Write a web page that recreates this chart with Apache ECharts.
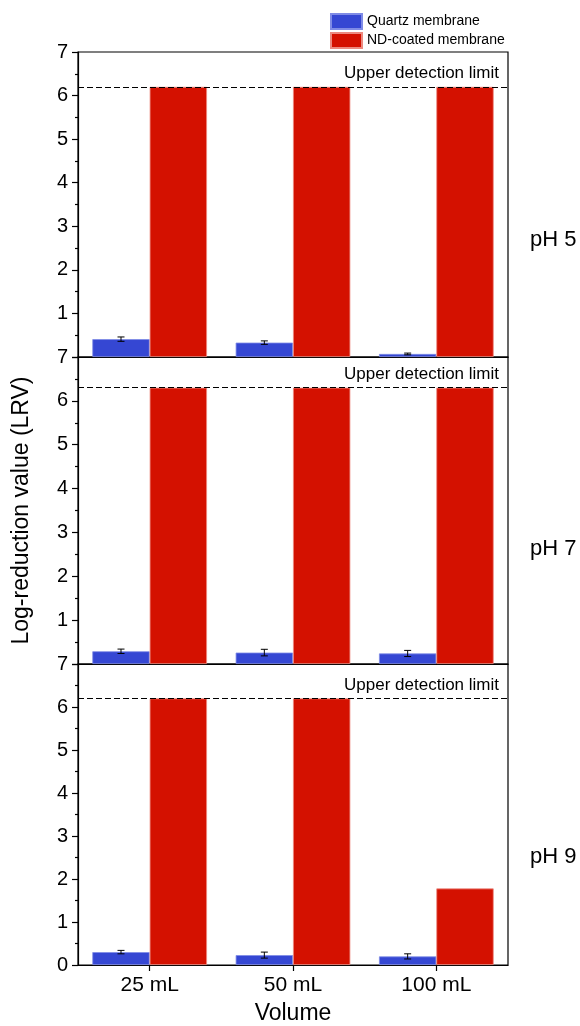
<!DOCTYPE html>
<html>
<head>
<meta charset="utf-8">
<script src="https://cdn.jsdelivr.net/npm/echarts@6/dist/echarts.min.js"></script>
<style>
html,body{margin:0;padding:0;background:#fff;}
#chart{width:580px;height:1026px;}
</style>
</head>
<body>
<div id="chart"></div>
<script>
// ---- data ----
var categories = ['25 mL', '50 mL', '100 mL'];
var panelLabels = ['pH 5', 'pH 7', 'pH 9'];
var quartzPH5 = [0.41, 0.33, 0.07];
var quartzErrPH5 = [0.05, 0.04, 0.02];
var ndPH5 = [6.2, 6.2, 6.2];
var quartzPH7 = [0.29, 0.26, 0.24];
var quartzErrPH7 = [0.05, 0.075, 0.07];
var ndPH7 = [6.3, 6.3, 6.3];
var quartzPH9 = [0.30, 0.23, 0.20];
var quartzErrPH9 = [0.04, 0.07, 0.06];
var ndPH9 = [6.2, 6.2, 1.78];
var detectionLimits = [6.2, 6.3, 6.2];
var yTicks = [0, 1, 2, 3, 4, 5, 6, 7];

var quartzAll = [quartzPH5, quartzPH7, quartzPH9];
var errAll = [quartzErrPH5, quartzErrPH7, quartzErrPH9];
var ndAll = [ndPH5, ndPH7, ndPH9];

var FONT = '"Liberation Sans", Arial, sans-serif';
var BLUE = '#3547d3';
var RED = '#d41100';

var grids = [
  {left: 78, right: 72, top: 52, height: 305},
  {left: 78, right: 72, top: 357, height: 307},
  {left: 78, right: 72, top: 664, height: 301}
];
var panelLabelY = [240, 549, 857];

var xAxes = [], yAxes = [], series = [], graphics = [];
grids.forEach(function (g, i) {
  g.show = true;
  g.borderColor = '#000';
  g.borderWidth = 1.2;
  g.backgroundColor = 'transparent';
  var last = i === grids.length - 1;
  xAxes.push({
    type: 'category',
    gridIndex: i,
    data: categories,
    axisLine: {show: true, lineStyle: {color: '#000', width: 1.2}},
    axisTick: {show: last, alignWithLabel: true, length: 6, lineStyle: {color: '#000', width: 1.2}},
    axisLabel: {show: last, color: '#000', fontSize: 21, fontFamily: FONT, margin: 10},
    splitLine: {show: false},
    name: last ? 'Volume' : '',
    nameLocation: 'middle',
    nameGap: 37,
    nameTextStyle: {color: '#000', fontSize: 23, fontFamily: FONT}
  });
  yAxes.push({
    type: 'value',
    gridIndex: i,
    min: yTicks[0],
    max: yTicks[yTicks.length - 1],
    interval: 1,
    axisLine: {show: true, lineStyle: {color: '#000', width: 1.2}},
    axisTick: {show: true, length: 6, lineStyle: {color: '#000', width: 1.2}},
    minorTick: {show: true, splitNumber: 2, length: 3, lineStyle: {color: '#000', width: 1.2}},
    splitLine: {show: false},
    axisLabel: {
      color: '#000', fontSize: 20, fontFamily: FONT, margin: 10,
      formatter: (function (hideZero) {
        return function (v) { return (hideZero && v === 0) ? '' : String(v); };
      })(!last)
    },
    name: i === 1 ? 'Log-reduction value (LRV)' : '',
    nameLocation: 'middle',
    nameGap: 45,
    nameRotate: 90,
    nameTextStyle: {color: '#000', fontSize: 23, fontFamily: FONT}
  });
  series.push({
    name: 'Quartz membrane',
    type: 'bar',
    xAxisIndex: i, yAxisIndex: i,
    data: quartzAll[i],
    barGap: '0%',
    barCategoryGap: '20%',
    itemStyle: {color: BLUE, borderColor: '#7f8be6', borderWidth: 0.8},
    z: 2
  });
  series.push({
    name: 'ND-coated membrane',
    type: 'bar',
    xAxisIndex: i, yAxisIndex: i,
    data: ndAll[i],
    barGap: '0%',
    barCategoryGap: '20%',
    itemStyle: {color: RED, borderColor: '#ec8a80', borderWidth: 0.8},
    z: 2,
    markLine: {
      silent: true,
      symbol: 'none',
      animation: false,
      lineStyle: {color: '#000', type: [6, 3], width: 1.2},
      label: {
        show: true,
        position: 'insideEndTop',
        formatter: 'Upper detection limit',
        color: '#000',
        fontSize: 17,
        fontFamily: FONT,
        distance: [9, 5]
      },
      data: [{yAxis: detectionLimits[i]}]
    }
  });
  var errData = quartzAll[i].map(function (v, k) { return [k, v, errAll[i][k]]; });
  series.push({
    type: 'custom',
    xAxisIndex: i, yAxisIndex: i,
    data: errData,
    z: 5,
    silent: true,
    renderItem: function (params, api) {
      var x = api.value(0), y = api.value(1), e = api.value(2);
      var band = api.size([1, 0])[0];
      var top = api.coord([x, y + e]);
      var bot = api.coord([x, y - e]);
      var cx = top[0] - band * 0.2;
      var cap = 3.5;
      var st = {stroke: '#000', lineWidth: 1};
      return {
        type: 'group',
        children: [
          {type: 'line', shape: {x1: cx, y1: top[1], x2: cx, y2: bot[1]}, style: st},
          {type: 'line', shape: {x1: cx - cap, y1: top[1], x2: cx + cap, y2: top[1]}, style: st},
          {type: 'line', shape: {x1: cx - cap, y1: bot[1], x2: cx + cap, y2: bot[1]}, style: st}
        ]
      };
    }
  });
  graphics.push({
    type: 'text',
    x: 530,
    y: panelLabelY[i],
    style: {text: panelLabels[i], fill: '#000', font: '22px ' + FONT, verticalAlign: 'middle', align: 'left'}
  });
});

var chart = echarts.init(document.getElementById('chart'), null, {renderer: 'canvas'});
chart.setOption({
  animation: false,
  backgroundColor: '#fff',
  textStyle: {fontFamily: FONT},
  legend: {
    data: ['Quartz membrane', 'ND-coated membrane'],
    orient: 'vertical',
    left: 330,
    top: 13,
    itemWidth: 31,
    itemHeight: 15,
    itemGap: 2,
    icon: 'rect',
    selectedMode: false,
    textStyle: {color: '#000', fontSize: 14, fontFamily: FONT, padding: [0, 0, 0, 0]},
    padding: 0
  },
  grid: grids,
  xAxis: xAxes,
  yAxis: yAxes,
  series: series,
  graphic: graphics
});
</script>
</body>
</html>
